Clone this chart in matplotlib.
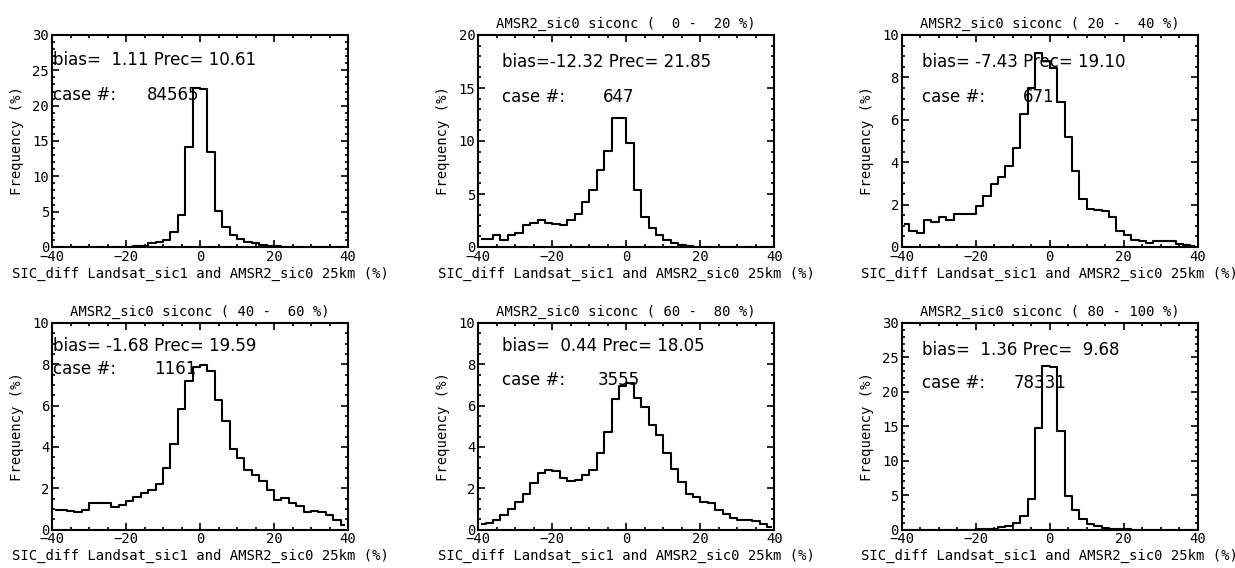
import numpy as np
import matplotlib
matplotlib.use("Agg")
import matplotlib.pyplot as plt
from matplotlib.ticker import MultipleLocator

# bin centres of the 2% wide SIC difference bins (-40 .. 40)
bin_centers = np.arange(-39, 40, 2)

# frequency (%) per bin
freq_all = [0, 0, 0, 0, 0, 0, 0, 0, 0, 0.05, 0.05, 0.1, 0.2, 0.5, 0.7, 1.0, 2.1, 4.5,
            14.2, 22.5, 22.3, 13.5, 5.1, 2.8, 1.7, 1.1, 0.7, 0.5, 0.3, 0.2, 0.1, 0.05,
            0.05, 0, 0, 0, 0, 0, 0, 0]
freq_0_20 = [0.8, 0.8, 1.1, 0.65, 1.1, 1.35, 2.05, 2.3, 2.55, 2.3, 2.15, 2.05, 2.55,
             3.1, 4.2, 5.4, 7.3, 9.1, 12.2, 12.2, 9.8, 5.4, 2.8, 1.8, 1.1, 0.7, 0.4,
             0.15, 0.1, 0, 0, 0, 0, 0, 0, 0, 0, 0, 0, 0]
freq_20_40 = [1.07, 0.75, 0.66, 1.26, 1.18, 1.42, 1.26, 1.54, 1.54, 1.54, 1.95, 2.4,
              2.95, 3.28, 3.83, 4.68, 6.27, 7.5, 9.17, 8.75, 8.45, 6.85, 5.2, 3.6, 2.25,
              1.78, 1.76, 1.7, 1.42, 0.75, 0.55, 0.35, 0.28, 0.2, 0.3, 0.3, 0.3, 0.15,
              0.1, 0.05]
freq_40_60 = [0.96, 0.96, 0.92, 0.84, 0.96, 1.29, 1.29, 1.29, 1.08, 1.2, 1.4, 1.56,
              1.77, 1.93, 2.2, 3.0, 4.13, 5.82, 7.2, 7.85, 7.96, 7.68, 6.27, 5.26, 3.89,
              3.46, 2.86, 2.65, 2.36, 1.93, 1.45, 1.53, 1.29, 1.13, 0.84, 0.92, 0.84,
              0.68, 0.48, 0.24]
freq_60_80 = [0.25, 0.3, 0.48, 0.72, 0.98, 1.33, 1.73, 2.25, 2.74, 2.89, 2.83, 2.49,
              2.33, 2.41, 2.62, 2.86, 3.7, 4.73, 6.3, 6.95, 7.1, 6.39, 5.94, 5.06, 4.57,
              3.69, 2.94, 2.3, 1.73, 1.57, 1.33, 1.3, 0.96, 0.77, 0.56, 0.48, 0.45, 0.4,
              0.29, 0.1]
freq_80_100 = [0, 0, 0, 0, 0, 0, 0, 0, 0, 0, 0.03, 0.1, 0.1, 0.3, 0.5, 0.95, 1.95, 4.5,
               14.8, 23.8, 23.6, 14.3, 4.9, 2.86, 1.48, 0.86, 0.48, 0.29, 0.14, 0.1, 0.1,
               0, 0, 0, 0, 0, 0, 0, 0, 0]

titles = ["", "AMSR2_sic0 siconc (  0 -  20 %)", "AMSR2_sic0 siconc ( 20 -  40 %)",
          "AMSR2_sic0 siconc ( 40 -  60 %)", "AMSR2_sic0 siconc ( 60 -  80 %)",
          "AMSR2_sic0 siconc ( 80 - 100 %)"]
bias = [1.11, -12.32, -7.43, -1.68, 0.44, 1.36]
prec = [10.61, 21.85, 19.10, 19.59, 18.05, 9.68]
cases = [84565, 647, 671, 1161, 3555, 78331]
ymax = [30, 20, 10, 10, 10, 30]
ymajor = [5, 5, 2, 2, 2, 5]
yminor = [1, 1, 0.5, 0.5, 0.5, 1]

series = [freq_all, freq_0_20, freq_20_40, freq_40_60, freq_60_80, freq_80_100]

# text placement inside each panel (axes fraction)
text_x = [0.003, 0.079, 0.068, 0.003, 0.079, 0.068]
num_x = [0.32, 0.42, 0.41, 0.345, 0.403, 0.378]
bias_y = [0.88, 0.874, 0.874, 0.887, 0.888, 0.87]
case_y = [0.715, 0.709, 0.709, 0.775, 0.724, 0.71]

# axis labels / ticks in a mono font, annotations in DejaVu Sans
plt.rcParams["font.family"] = "DejaVu Sans Mono"

W, H = 1235, 568
fig = plt.figure(figsize=(W / 100, H / 100), dpi=100)

lefts = [52, 478.3, 901.7]
rows = [(35, 247), (323, 529.5)]

for i, vals in enumerate(series):
    r, c = divmod(i, 3)
    top, bot = rows[r]
    ax = fig.add_axes([lefts[c] / W, (H - bot) / H, 296 / W, (bot - top) / H])
    ax.step(bin_centers, vals, where="mid", color="black", lw=1.5)
    ax.set_xlim(-40, 40)
    ax.set_ylim(0, ymax[i])
    ax.xaxis.set_major_locator(MultipleLocator(20))
    ax.xaxis.set_minor_locator(MultipleLocator(5))
    ax.yaxis.set_major_locator(MultipleLocator(ymajor[i]))
    ax.yaxis.set_minor_locator(MultipleLocator(yminor[i]))
    ax.tick_params(which="both", direction="in", top=True, right=True, width=1.2)
    ax.tick_params(which="major", length=5, labelsize=10, pad=2)
    ax.tick_params(which="minor", length=2.5)
    for s in ax.spines.values():
        s.set_linewidth(1.5)
    ax.set_xlabel("SIC_diff Landsat_sic1 and AMSR2_sic0 25km (%)", fontsize=10,
                  labelpad=2)
    ax.set_ylabel("Frequency (%)", fontsize=10, labelpad=6)
    if titles[i]:
        ax.set_title(titles[i], fontsize=10, pad=5)
    ax.text(text_x[i], bias_y[i], "bias=%6.2f Prec=%6.2f" % (bias[i], prec[i]),
            transform=ax.transAxes, fontsize=12, va="center", ha="left",
            family="DejaVu Sans")
    ax.text(text_x[i], case_y[i], "case #:", transform=ax.transAxes, fontsize=12,
            va="center", ha="left", family="DejaVu Sans")
    ax.text(num_x[i], case_y[i], str(cases[i]), transform=ax.transAxes, fontsize=12,
            va="center", ha="left", family="DejaVu Sans")

fig.savefig("out.png", dpi=100, facecolor="white")
